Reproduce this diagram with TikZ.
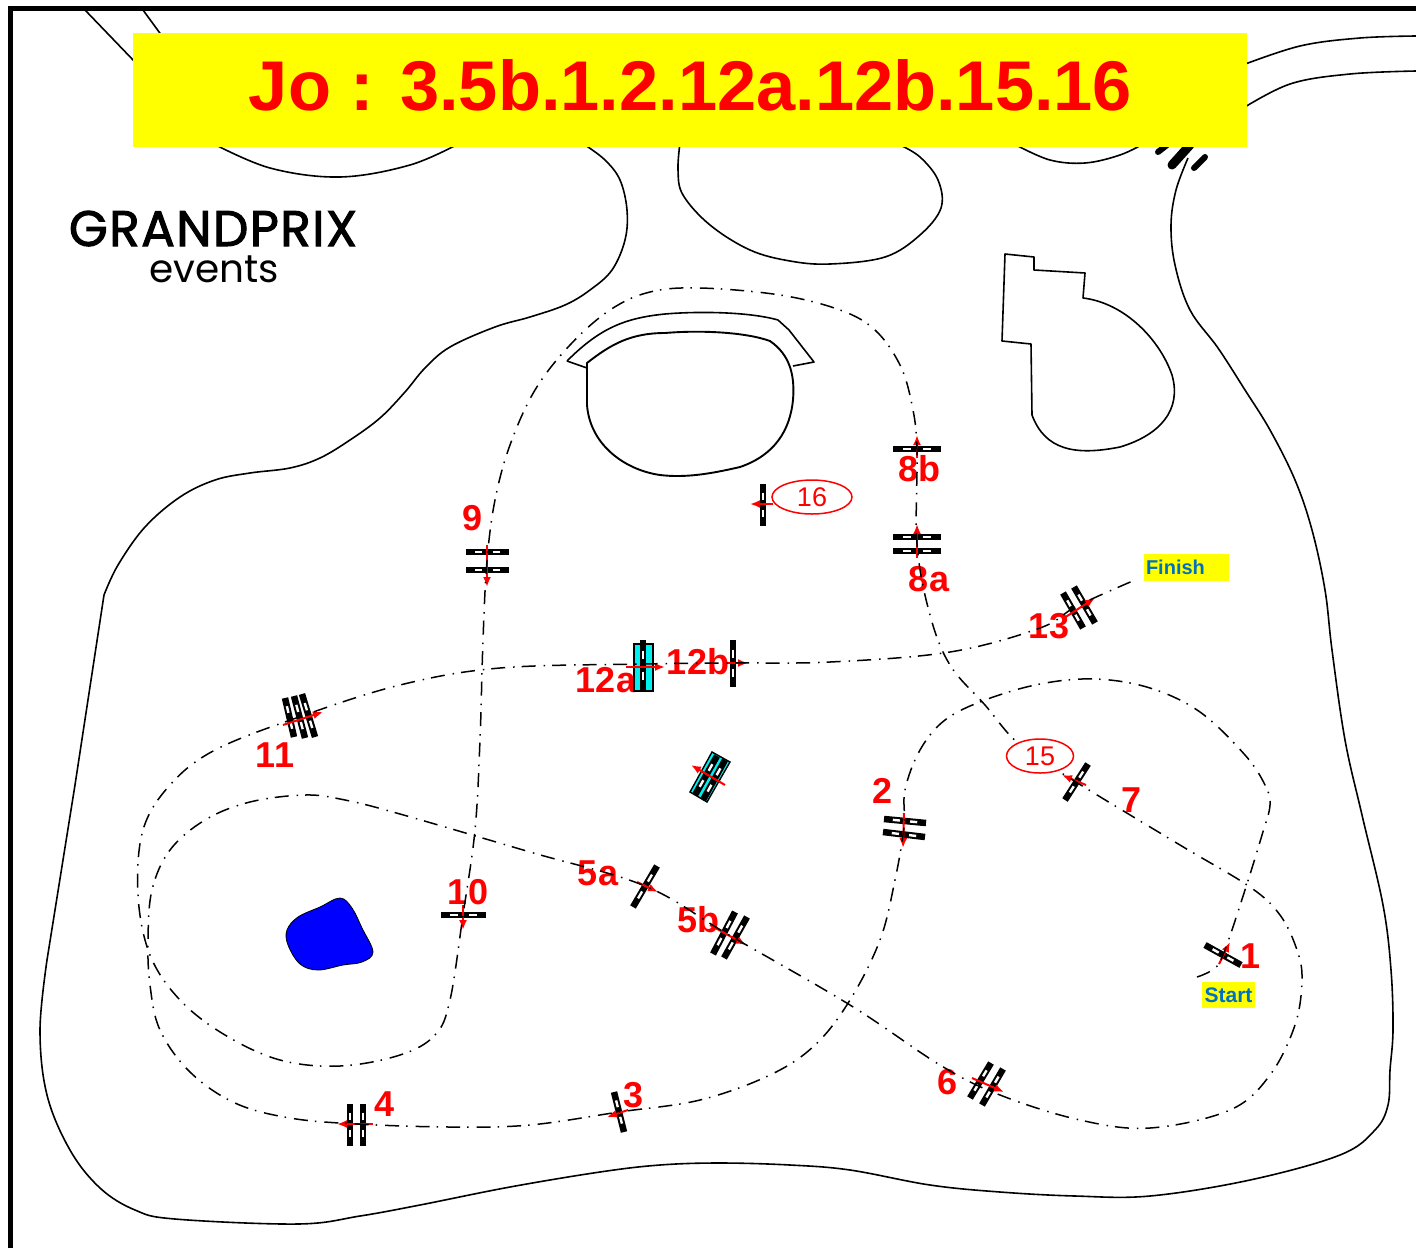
\documentclass[tikz,border=0pt]{standalone}
\usepackage{fontspec}
\usetikzlibrary{calc,arrows.meta,shapes.geometric}
\setmainfont{Liberation Sans}
\newfontfamily\logofont{Poppins}
\definecolor{rd}{RGB}{255,0,0}
\definecolor{yl}{RGB}{255,255,0}
\definecolor{cy}{RGB}{0,240,240}
\definecolor{bluetxt}{RGB}{0,112,192}
\tikzset{
  outline/.style={line width=1.6pt,black,line join=round},
  course/.style={line width=1.5pt,black,dash pattern=on 14pt off 8pt on 1.5pt off 7pt},
  redarrow/.style={line width=2pt,rd,-{Latex[length=10pt,width=8pt]}},
  num/.style={font=\fontsize{36}{36}\selectfont\bfseries,text=rd,inner sep=0pt},
  bubble/.style={draw=rd,line width=1.5pt,ellipse,fill=white,inner sep=0pt,text=rd,font=\fontsize{27}{27}\selectfont},
  tag/.style={fill=yl,text=bluetxt,inner sep=0pt,font=\fontsize{21}{21}\selectfont\bfseries}
}
\newcommand{\gb}[2]{%
  \draw[line width=6.5pt,black] (#1) -- (#2);
  \draw[line width=2.4pt,white] ($(#1)!0.21!(#2)$) -- ($(#1)!0.38!(#2)$);
  \draw[line width=2.4pt,white] ($(#1)!0.62!(#2)$) -- ($(#1)!0.79!(#2)$);
}
\begin{document}
\begin{tikzpicture}[x=1pt,y=-1pt]
\useasboundingbox (0,0) rectangle (1416,1248);
\fill[white] (0,0) rectangle (1416,1248);
\begin{scope}
\clip (0,0) rectangle (1416,1248);
% frame
\draw[line width=5pt,black] (10,1248) -- (10,8) -- (1416,8);
% top-left road
\draw[outline] (85,10) -- (135,62);
\draw[outline] (143,10) -- (162,36);
% top-right road
\draw[outline] plot[smooth,tension=0.6] coordinates {(1240,66) (1300,46) (1360,38) (1416,36)};
\draw[outline] plot[smooth,tension=0.6] coordinates {(1240,110) (1290,84) (1350,74) (1416,71)};
% main ground outline
\draw[outline] plot[smooth,tension=0.6] coordinates {(1188,158) (1176,190) (1171,225) (1175,265) (1190,310) (1218,348) (1245,390) (1270,430) (1295,480) (1312,530) (1325,590) (1332,650) (1345,740) (1362,815) (1383,905) (1391,970) (1393,1030) (1390,1070) (1388,1105) (1375,1130) (1340,1155) (1250,1180) (1150,1196) (1075,1196) (1000,1192) (930,1185) (850,1170) (790,1165) (720,1163) (660,1165) (600,1172) (510,1187) (420,1205) (360,1216) (298,1224) (175,1219) (135,1210) (100,1188) (70,1150) (47,1095) (40,1030) (47,960)};
\draw[outline] (47,960) -- (75,785) -- (104,595);
\draw[outline] plot[smooth,tension=0.6] coordinates {(104,595) (118,565) (145,527) (180,497) (215,480) (250,473) (290,468) (320,458) (350,440) (380,418) (405,392) (425,368) (450,347) (495,327) (530,317) (565,305) (590,290) (612,270) (625,240) (627,210) (620,180) (605,160) (585,145)};
\draw[outline] plot[smooth,tension=0.6] coordinates {(212,143) (270,168) (340,177) (410,165) (460,143)};
\draw[outline] plot[smooth,tension=0.6] coordinates {(680,143) (678,170) (683,195) (710,225) (750,250) (790,261) (830,264) (885,257) (920,235) (941,208) (938,180) (920,157) (900,145)};
\draw[outline] plot[smooth,tension=0.6] coordinates {(1016,145) (1050,160) (1085,163) (1120,155) (1145,143)};
% building
\draw[outline] (1005,254) -- (1034,257) -- (1034,270) -- (1085,273) -- (1083,298)
  .. controls (1125,303) and (1160,340) .. (1172,375)
  .. controls (1182,410) and (1160,435) .. (1120,447)
  .. controls (1075,456) and (1045,450) .. (1032,415)
  -- (1031,344) -- (1002,341) -- cycle;
% pit
\draw[outline] (567,361) .. controls (600,328) and (625,318) .. (665,314)
  .. controls (700,311) and (750,312) .. (778,320) -- (789,330) -- (814,362) -- (793,366);
\draw[outline,line width=1.9pt] (587,363) .. controls (610,345) and (630,333) .. (665,333)
  .. controls (700,330) and (745,332) .. (770,341)
  .. controls (790,355) and (795,375) .. (793,400)
  .. controls (790,430) and (775,455) .. (740,467)
  .. controls (710,474) and (685,478) .. (660,475)
  .. controls (625,470) and (590,445) .. (587,405) -- cycle;
\draw[outline] (567,361) -- (587,368);
% lake
\fill[blue,draw=black,line width=0.8pt] plot[smooth cycle,tension=0.6] coordinates {(287,930) (298,917) (320,907) (340,898) (352,908) (362,928) (373,952) (362,962) (343,965) (318,970) (300,964) (288,945)};
% top-right gate fragments
\draw[line width=6pt,black,line cap=round] (1158,152) -- (1167,145);
\draw[line width=9pt,black,line cap=round] (1172,165) -- (1190,145);
\draw[line width=6pt,black,line cap=round] (1194,168) -- (1205,157);
% title
\node[fill=yl,inner sep=0pt,minimum width=1114pt,minimum height=114pt,anchor=north west] (titlebar) at (133,33) {};
\node[text=rd,font=\fontsize{70.4}{70.4}\selectfont\bfseries,inner sep=0pt] (title) at (690.5,85) {Jo : 3.5b.1.2.12a.12b.15.16};
% logo
\node[font=\logofont\fontsize{50}{50}\selectfont\addfontfeature{LetterSpace=3,FakeBold=2},inner sep=0pt,text depth=0pt,anchor=base] (logoa) at (213,246) {GRANDPRIX};
\node[font=\logofont\fontsize{39}{39}\selectfont,inner sep=0pt,text height=28pt,anchor=base] (logob) at (214,282) {events};
% labels
\node[num] (l1) at (1250,956) {1};
\node[num] (l2) at (882,791) {2};
\node[num] (l3) at (634,1095) {3};
\node[num] (l4) at (385,1104) {4};
\node[num] (l5a) at (598,873) {5a};
\node[num] (l5b) at (698,920) {5b};
\node[num] (l6) at (947,1082) {6};
\node[num] (l7) at (1131,800) {7};
\node[num] (l8a) at (929,579) {8a};
\node[num] (l8b) at (919,469) {8b};
\node[num] (l9) at (473,518) {9};
\node[num] (l10) at (468,892) {10};
\node[num] (l11) at (275,755) {11};
\node[num] (l12a) at (606,680) {12a};
\node[num] (l12b) at (698,662) {12b};
\node[num] (l13) at (1049,626) {13};
% gates
\gb{1205,945}{1241,965}
\gb{884,819}{926,823}
\gb{883,832}{925,837}
\gb{614,1092}{624,1132}
\gb{350,1104}{350,1146}
\gb{363,1104}{363,1146}
\gb{633,907}{657,866}
\gb{713,954}{735,912}
\gb{724,958}{747,917}
\gb{970,1098}{991,1063}
\gb{982,1105}{1003,1069}
\gb{1065,800}{1088,764}
\gb{893,537}{941,537}
\gb{893,551}{941,551}
\gb{893,449}{941,449}
\gb{466,552}{509,552}
\gb{466,570}{509,570}
\gb{441,915}{486,915}
\gb{285,698}{294,737}
\gb{294,696}{305,738}
\gb{302,694}{315,737}
\gb{1063,593}{1083,628}
\gb{1074,587}{1095,623}
\gb{733,640}{733,687}
\gb{763,484}{763,526}
% cyan gates
\fill[cy,draw=black,line width=1.4pt] (634,644) rectangle (653,691);
\gb{643,640}{643,691}
\fill[cy,draw=black,line width=1.4pt] (690,792) -- (712,752) -- (730,762) -- (707,802) -- cycle;
\gb{695,795}{717,756}
\gb{703,800}{725,760}
% red arrows
\draw[redarrow] (1219,964) -- (1230,942);
\draw[redarrow] (904,813) -- (903,848);
\draw[redarrow] (628,1110) -- (607,1117);
\draw[redarrow] (373,1124) -- (337,1124);
\draw[redarrow] (637,882) -- (658,892);
\draw[redarrow] (710,925) -- (746,945);
\draw[redarrow] (972,1078) -- (1004,1092);
\draw[redarrow] (1086,785) -- (1062,775);
\draw[redarrow] (917,558) -- (917,524);
\draw[redarrow] (917,458) -- (917,435);
\draw[redarrow] (487,545) -- (487,587);
\draw[redarrow] (463,905) -- (463,930);
\draw[redarrow] (283,725) -- (323,712);
\draw[redarrow] (1064,618) -- (1095,598);
\draw[redarrow] (626,667) -- (665,667);
\draw[redarrow] (725,663) -- (748,663);
\draw[redarrow] (725,785) -- (691,765);
\draw[redarrow] (773,504) -- (750,504);
% course
\draw[course] plot[smooth,tension=0.6] coordinates {(1197,977) (1212,970) (1223,955) (1245,890) (1262,835) (1270,805) (1265,785) (1245,755) (1200,712) (1150,688) (1095,679) (1040,684) (985,700) (945,720) (920,750) (905,790) (904,827) (895,880) (880,940) (850,1000) (815,1045) (770,1075) (700,1100) (619,1112) (530,1125) (450,1127) (357,1124) (290,1118) (235,1103) (190,1072) (160,1030) (150,985) (148,940) (152,890) (170,850) (205,820) (250,802) (305,795) (345,800) (400,814) (530,852) (645,886) (729,935) (850,1005) (940,1065) (1000,1095) (1080,1120) (1150,1128) (1230,1110) (1270,1075) (1295,1025) (1302,980) (1297,950) (1280,915) (1250,887) (1180,845) (1076,782) (1020,745) (985,705) (950,665) (930,615) (917,544) (917,449) (912,405) (900,365) (875,330) (840,310) (780,295) (700,288) (650,292) (610,310) (570,345) (535,390) (510,445) (495,500) (487,561) (483,640) (480,740) (475,830) (463,915) (450,1000) (435,1035) (400,1055) (340,1066) (280,1060) (225,1035) (180,1000) (150,955) (138,895) (143,830) (170,785) (215,750) (299,717) (400,685) (500,668) (643,664) (733,663) (830,662) (950,652) (1040,628) (1077,606) (1135,580)};
% bubbles
\node[bubble,minimum width=80pt,minimum height=34pt] (b16) at (812,497) {16};
\node[bubble,minimum width=67pt,minimum height=34pt] (b15) at (1040,756) {15};
% tags
\node[tag,minimum width=53pt,minimum height=26pt] (start) at (1228.5,995) {Start};
\node[tag,minimum width=85pt,minimum height=27pt,text width=81pt,align=left,font=\fontsize{20}{20}\selectfont\bfseries] (finish) at (1186.5,567) {Finish};
\end{scope}
\end{tikzpicture}
\end{document}
